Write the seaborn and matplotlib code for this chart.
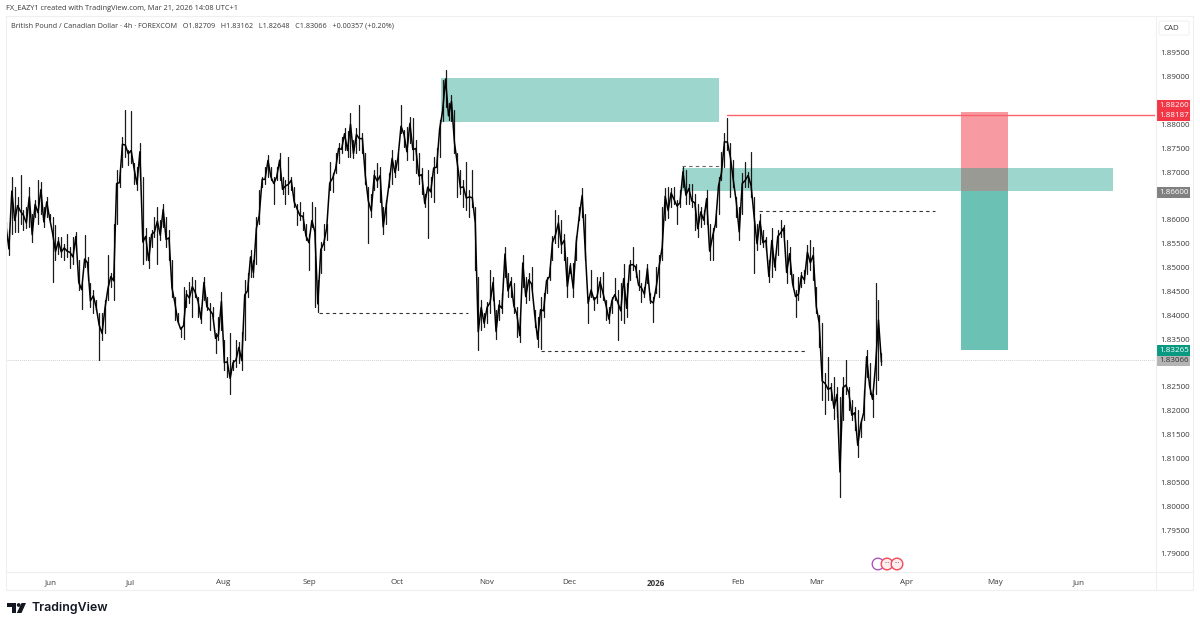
import pandas as pd
import seaborn as sns
import matplotlib.pyplot as plt
from matplotlib.patches import Rectangle, Circle, Polygon, FancyBboxPatch

# Price columns (high, low), 1e-4 price units, about one per 12 bars
jun_aug = [(18596,18561),(18578,18526),(18690,18571),(18669,18575),(18648,18575),(18694,18592),(18620,18578),(18627,18582),
    (18669,18585),(18613,18554),(18641,18606),(18683,18592),(18680,18613),(18627,18585),(18648,18606),(18613,18599),
    (18606,18470),(18589,18515),(18564,18529),(18564,18522),(18550,18515),(18571,18522),(18543,18498),(18564,18508),
    (18575,18536),(18515,18453),(18467,18414),(18568,18501),(18522,18474),(18467,18418),(18453,18404),(18432,18411),
    (18404,18306),(18404,18348),(18432,18362),(18526,18432),(18488,18460),(18592,18432),(18704,18592),(18704,18669),
    (18774,18711),(18830,18732),(18746,18715),(18827,18718),(18718,18676),(18711,18662),(18760,18690),(18690,18508),
    (18582,18515),(18564,18498),(18578,18543),(18606,18564),(18627,18508),(18599,18557),(18634,18585),(18606,18543),
    (18578,18515),(18515,18439),(18439,18390),(18404,18383),(18376,18355),(18460,18351),(18453,18418),(18470,18425),
    (18481,18397),(18474,18439),(18439,18397),(18418,18383),(18481,18432),(18439,18411),(18425,18369),(18418,18397),
    (18362,18320),(18397,18348),(18449,18369),(18348,18285),(18313,18271),(18362,18236),(18306,18285),(18348,18292),
    (18344,18299),(18365,18285),(18474,18348),(18488,18439),(18536,18481),(18515,18481),(18606,18508),(18662,18592),
    (18690,18669),(18711,18676),(18736,18690),(18711,18683),(18690,18634),(18711,18683),(18739,18683),(18690,18655),
    (18683,18634),(18732,18655),(18690,18662),(18669,18627),(18634,18589)]
sep_nov = [(18638,18599),(18617,18578),(18592,18558),(18571,18495),(18638,18585),(18627,18418),(18474,18407),(18554,18488),
    (18592,18537),(18592,18558),(18722,18662),(18697,18659),(18739,18697),(18760,18718),(18774,18739),(18792,18746),
    (18785,18732),(18823,18732),(18767,18729),(18792,18739),(18841,18746),(18781,18739),(18739,18676),(18669,18551),
    (18655,18606),(18704,18662),(18718,18669),(18711,18638),(18627,18571),(18641,18592),(18697,18669),(18746,18676),
    (18725,18690),(18739,18704),(18841,18781),(18788,18753),(18795,18725),(18816,18760),(18813,18725),(18767,18697),
    (18739,18676),(18708,18655),(18655,18627),(18704,18561),(18690,18648),(18732,18638),(18750,18697),(18809,18732),
    (18893,18806),(18914,18837),(18844,18809),(18862,18806),(18830,18739),(18739,18648),(18704,18655),(18683,18627),
    (18722,18620),(18662,18606),(18704,18627),(18627,18495),(18481,18327),(18432,18369),(18404,18376),(18428,18383),
    (18495,18404),(18481,18432),(18411,18351),(18432,18390),(18446,18404),(18544,18481),(18488,18439),(18481,18439),
    (18467,18404),(18418,18355),(18397,18344),(18526,18460),(18481,18425),(18488,18432),(18502,18453),(18411,18376),
    (18397,18334),(18439,18330),(18446,18397),(18481,18446),(18502,18474),(18565,18516),(18620,18551),(18610,18544),
    (18600,18530),(18571,18516),(18523,18439),(18509,18488),(18509,18439),(18565,18516),(18627,18599),(18666,18606),
    (18613,18516),(18439,18383),(18495,18439),(18439,18411),(18481,18425)]
dec_mar = [(18481,18439),(18491,18432),(18432,18390),(18418,18383),(18439,18404),(18477,18432),(18453,18348),(18467,18390),
    (18508,18383),(18467,18397),(18515,18474),(18543,18494),(18508,18481),(18494,18453),(18467,18428),(18460,18439),
    (18508,18467),(18446,18425),(18439,18386),(18501,18446),(18526,18439),(18627,18515),(18666,18599),(18669,18603),
    (18666,18627),(18669,18634),(18641,18592),(18662,18627),(18711,18669),(18704,18634),(18676,18634),(18676,18627),
    (18655,18578),(18634,18564),(18627,18585),(18620,18592),(18662,18592),(18592,18515),(18582,18515),(18613,18585),
    (18690,18613),(18743,18683),(18781,18711),(18813,18746),(18760,18648),(18725,18669),(18648,18606),(18627,18557),
    (18697,18613),(18722,18669),(18701,18669),(18743,18648),(18648,18488),(18592,18536),(18613,18550),(18578,18543),
    (18564,18536),(18515,18470),(18582,18481),(18522,18494),(18578,18526),(18599,18564),(18589,18564),(18557,18467),
    (18543,18487),(18487,18460),(18453,18397),(18481,18432),(18491,18460),(18494,18467),(18547,18487),(18557,18494),
    (18543,18474),(18460,18404),(18400,18334),(18383,18222),(18278,18194),(18313,18222),(18257,18222),(18271,18183),
    (18250,18187),(18229,18019),(18271,18180),(18306,18236),(18250,18201),(18222,18180),(18208,18159),(18201,18103),
    (18180,18145),(18243,18180),(18327,18271),(18299,18236),(18236,18187),(18467,18236),(18432,18264),(18320,18296)]

# where each stretch starts and ends on the time axis
stretches = [(jun_aug, 0, 98), (sep_nov, 98, 198), (dec_mar, 198, 292.8)]

month_pos = [15, 41.3, 72.3, 101, 130.3, 160.3, 187.7, 216.7, 244, 270.3, 300.3, 329.7, 357.7]
month_labels = ['Jun', 'Jul', 'Aug', 'Sep', 'Oct', 'Nov', 'Dec', '2026', 'Feb', 'Mar', 'Apr', 'May', 'Jun']
price_ticks = [1.79, 1.795, 1.80, 1.805, 1.81, 1.815, 1.82, 1.825, 1.835, 1.84, 1.845, 1.85, 1.855, 1.86,
               1.87, 1.875, 1.88, 1.89, 1.895]

# zones: column start, column end, price low, price high
supply_zones = [(145, 237.7, 1.8805, 1.8897), (225.3, 369, 1.8661, 1.8708)]
stop_box = (318.3, 334, 1.8660, 1.8826)
target_box = (318.3, 334, 1.83265, 1.8660)
stop_price = 1.88187
last_price = 1.83066
dashed_levels = [(104.3, 154, 1.8405), (178.3, 266.3, 1.8326), (251, 309.7, 1.8618)]

# thin wick per column, and a jagged thicker body running through the inner half
wick_rows = []
body_rows = []
n = 0
for part, start, end in stretches:
    step = (end - start) / len(part)
    for i, (high, low) in enumerate(part):
        col = start + i * step
        wick_rows.append({'col': col, 'price': high / 10000, 'unit': n})
        wick_rows.append({'col': col, 'price': low / 10000, 'unit': n})
        upper = (3 * high + low) / 40000
        lower = (high + 3 * low) / 40000
        body_rows.append({'col': col, 'price': upper if n % 2 == 0 else lower})
        n += 1
wicks = pd.DataFrame(wick_rows)
bodies = pd.DataFrame(body_rows)

sns.set_theme(style='white')
plt.rcParams['font.family'] = ['Open Sans', 'DejaVu Sans']
text_color = '#3a3a3a'

fig = plt.figure(figsize=(12, 6.27), dpi=100, facecolor='white')
ax = fig.add_axes([6 / 1200, 1 - 572 / 627, 1149 / 1200, 556 / 627])
ax.set_xlim(0, 383)
ax.set_ylim(1.7862, 1.9027)

for x0, x1, low, high in [stop_box]:
    ax.add_patch(Rectangle((x0, low), x1 - x0, high - low, color='#f23645', alpha=0.5, lw=0, zorder=1))
for x0, x1, low, high in [target_box]:
    ax.add_patch(Rectangle((x0, low), x1 - x0, high - low, color='#089981', alpha=0.6, lw=0, zorder=1))
for x0, x1, low, high in supply_zones:
    ax.add_patch(Rectangle((x0, low), x1 - x0, high - low, color='#0a9a80', alpha=0.4, lw=0, zorder=2))

ax.axhline(last_price, color='#d2d2d2', lw=0.7, ls=(0, (1, 1)), zorder=1)
ax.plot([240.3, 383], [stop_price, stop_price], color='#f7626e', lw=1, zorder=2)
for x0, x1, level in dashed_levels:
    ax.plot([x0, x1], [level, level], color='#333333', lw=0.8, ls=(0, (3, 3)), zorder=2)
ax.plot([225.3, 238], [1.8712, 1.8712], color='#666666', lw=0.8, ls=(0, (3, 3)), zorder=2)

sns.lineplot(data=wicks, x='col', y='price', units='unit', ax=ax, color='#1a1a1a', lw=0.9, estimator=None, zorder=3)
sns.lineplot(data=bodies, x='col', y='price', ax=ax, color='black', lw=1.1, sort=False, estimator=None, zorder=3)

ax.set_xlabel('')
ax.set_ylabel('')
ax.set_xticks(month_pos)
ax.set_xticklabels(month_labels, fontsize=5.8, color=text_color)
ax.get_xticklabels()[7].set_fontweight('bold')
ax.yaxis.tick_right()
ax.set_yticks(price_ticks)
ax.set_yticklabels(['%.5f' % p for p in price_ticks], fontsize=5.8, color=text_color)
ax.tick_params(axis='x', length=0, pad=5)
ax.tick_params(axis='y', length=0, pad=4)
for side in ax.spines:
    ax.spines[side].set_visible(False)

# overlay in picture pixels for frame, header, price flags and logo
over = fig.add_axes([0, 0, 1, 1], zorder=5)
over.set_xlim(0, 1200)
over.set_ylim(627, 0)
over.axis('off')
frame = '#efefef'
over.plot([6, 1193, 1193, 6, 6], [16, 16, 590, 590, 16], color=frame, lw=0.8)
over.plot([6, 1193], [572, 572], color=frame, lw=0.8)
over.plot([1155.5, 1155.5], [16, 590], color=frame, lw=0.8)

over.text(6, 9, 'FX_EAZY1 created with TradingView.com, Mar 21, 2026 14:08 UTC+1', fontsize=5.3, color=text_color, va='center')
over.text(11, 26, 'British Pound / Canadian Dollar · 4h · FOREXCOM   O1.82709   H1.83162   L1.82648   C1.83066   +0.00357 (+0.20%)',
          fontsize=5.2, color=text_color, va='center')
over.add_patch(FancyBboxPatch((1159, 21), 30, 14, boxstyle='round,pad=0,rounding_size=2', fc='white', ec='#f0f0f0', lw=0.7))
over.text(1171, 28, 'CAD', fontsize=5.8, color=text_color, ha='center', va='center')

flags = [(100, 110.5, '1.88260', '#f23645', 'white'), (110.5, 121, '1.88187', '#f23645', 'white'),
         (187, 197.5, '1.86600', '#808080', 'white'), (345, 356, '1.83265', '#089981', 'white'),
         (356, 366, '1.83066', '#b4b4b4', '#333333')]
for y0, y1, label, fill, ink in flags:
    over.add_patch(Rectangle((1156, y0), 34, y1 - y0, fc=fill, ec='none'))
    over.text(1174, (y0 + y1) / 2, label, fontsize=5.8, color=ink, ha='center', va='center')

# event markers
over.add_patch(Circle((878, 564), 5.8, fc='white', ec='#ab47bc', lw=0.9))
for cx in [887, 897]:
    over.add_patch(Circle((cx, 564), 5.8, fc='#fdeef0', ec='#f2495c', lw=1.0))
    over.text(cx, 564, '···', fontsize=5, color='#7a3a50', ha='center', va='center')

# logo
logo = '#131722'
over.add_patch(Polygon([(7, 603), (16, 603), (16, 613), (11.5, 613), (11.5, 607), (7, 607)], fc=logo, ec='none'))
over.add_patch(Circle((18.7, 605), 1.9, fc=logo, ec='none'))
over.add_patch(Polygon([(21.5, 603), (26, 603), (21.5, 613), (16.8, 613)], fc=logo, ec='none'))
over.text(31, 607.5, 'TradingView', fontsize=8.9, family=['Inter', 'DejaVu Sans'], weight='semibold', color=logo, va='center')

fig.savefig('out.png', dpi=100)
